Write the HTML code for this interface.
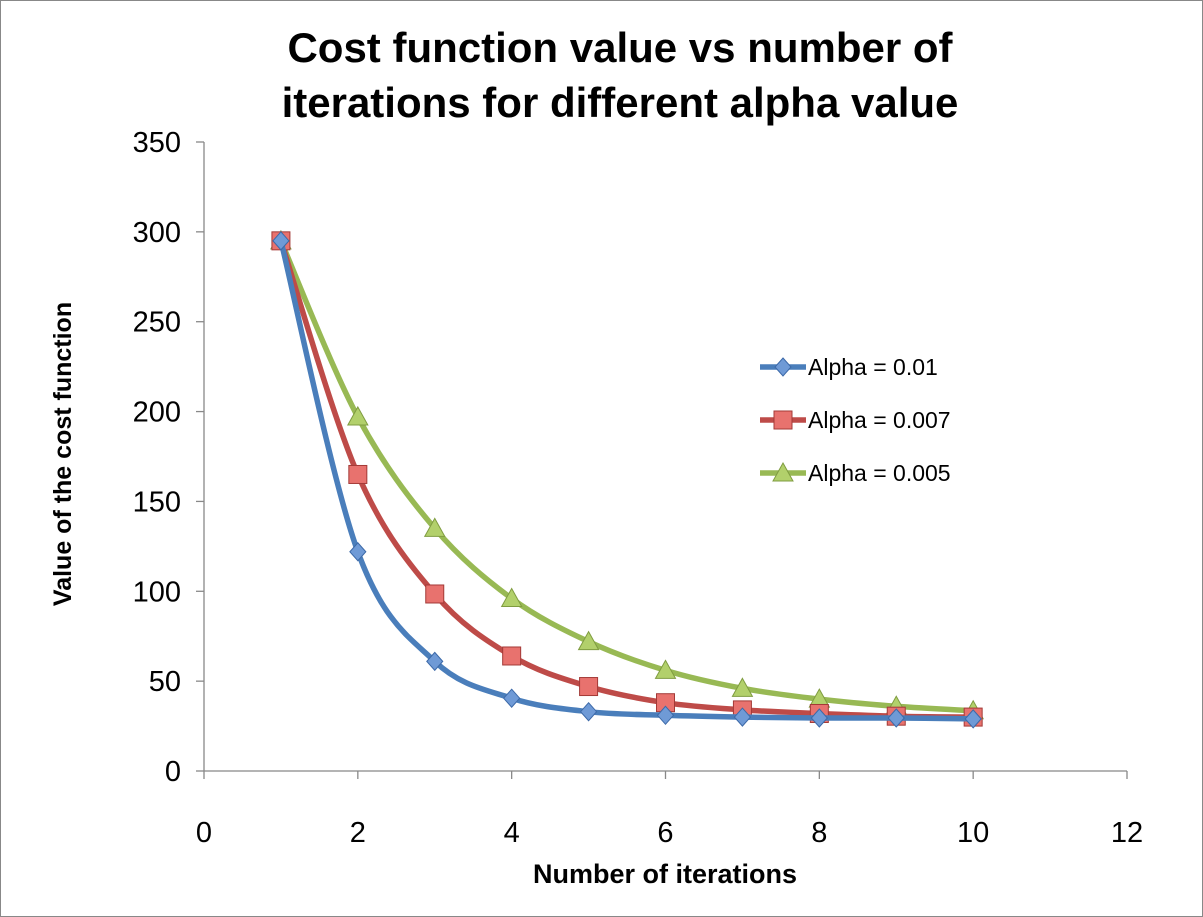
<!DOCTYPE html>
<html><head><meta charset="utf-8"><style>
body{margin:0;background:#fff;}
svg{display:block;font-family:"Liberation Sans",sans-serif;}
</style></head><body>
<svg id="chart" width="1203" height="917" viewBox="0 0 1203 917">
<rect x="0.5" y="0.5" width="1202" height="916" fill="#fff" stroke="#888" stroke-width="1"/>
<text x="620" y="62" text-anchor="middle" font-size="42" font-weight="bold" fill="#000">Cost function value vs number of</text>
<text x="620" y="117" text-anchor="middle" font-size="42" font-weight="bold" fill="#000">iterations for different alpha value</text>
<text x="665" y="883" text-anchor="middle" font-size="27" font-weight="bold">Number of iterations</text>
<text transform="translate(71,454) rotate(-90)" text-anchor="middle" font-size="25" font-weight="bold">Value of the cost function</text>
<g id="axes"></g><g id="series"></g><g id="legend"></g>
</svg>
<script>
const xTicks=[0,2,4,6,8,10,12];
const yTicks=[0,50,100,150,200,250,300,350];
const iterations=[1,2,3,4,5,6,7,8,9,10];
const alpha001=[295,122,61,40.5,33,31,30,29.5,29.5,29];
const alpha0007=[295,165,98.5,64,47,38,34,32,30.5,30];
const alpha0005=[295,197,135,96,72,56,46,40,36,33.5];
const seriesNames=["Alpha = 0.01","Alpha = 0.007","Alpha = 0.005"];
const NS="http://www.w3.org/2000/svg";
const X0=204,X1=1127,Y0=771,Y1=142;
const xs=v=>X0+(v-0)/12*(X1-X0);
const ys=v=>Y0-(v/350)*(Y0-Y1);
function mk(t,a,p){const e=document.createElementNS(NS,t);for(const k in a)e.setAttribute(k,a[k]);p.appendChild(e);return e;}
const axes=document.getElementById('axes');
let ax=mk('line',{x1:X0,y1:Y0,x2:X1,y2:Y0,stroke:'#888','stroke-width':1.3},axes);


let ay=mk('line',{x1:X0,y1:Y0,x2:X0,y2:Y1,stroke:'#888','stroke-width':1.3},axes);


xTicks.forEach(v=>{
 const t=mk('line',{x1:xs(v),y1:Y0,x2:xs(v),y2:Y0+8,stroke:'#888','stroke-width':1.3},axes);
 
 
 const l=mk('text',{x:xs(v),y:Y0+71,'text-anchor':'middle','font-size':29},axes);
 
 
 l.textContent=v;
});
yTicks.forEach(v=>{
 const t=mk('line',{x1:X0-8,y1:ys(v),x2:X0,y2:ys(v),stroke:'#888','stroke-width':1.3},axes);
 
 
 const l=mk('text',{x:181,y:ys(v)+10,'text-anchor':'end','font-size':29},axes);
 
 
 l.textContent=v;
});
function smooth(pts){let d=`M${pts[0][0]},${pts[0][1]}`;
 for(let i=0;i<pts.length-1;i++){const p0=pts[i-1]||pts[i],p1=pts[i],p2=pts[i+1],p3=pts[i+2]||p2;
  const c1=[p1[0]+(p2[0]-p0[0])/6,p1[1]+(p2[1]-p0[1])/6],c2=[p2[0]-(p3[0]-p1[0])/6,p2[1]-(p3[1]-p1[1])/6];
  d+=` C${c1[0]},${c1[1]} ${c2[0]},${c2[1]} ${p2[0]},${p2[1]}`;}return d;}
function marker(kind,x,y,fill,stroke,p){
 let e;
 if(kind==='diamond')e=mk('polygon',{points:`${x},${y-9} ${x+8},${y} ${x},${y+9} ${x-8},${y}`,fill,stroke,'stroke-width':1},p);
 else if(kind==='square')e=mk('rect',{x:x-9,y:y-9,width:18,height:18,fill,stroke,'stroke-width':1},p);
 else e=mk('polygon',{points:`${x},${y-10} ${x+10},${y+8} ${x-10},${y+8}`,fill,stroke,'stroke-width':1},p);
 return e;}
const sdefs=[[alpha001,'#4a7ebb','#6f9ad6','#3c69a8','diamond','series-alpha-0-01'],
 [alpha0007,'#be4b48','#e8726e','#a33a37','square','series-alpha-0-007'],
 [alpha0005,'#98b954','#b2d06b','#7f9c40','triangle','series-alpha-0-005']];
const sg=document.getElementById('series');const lg=document.getElementById('legend');
[...sdefs].reverse().forEach(([vals,col,mf,ms,kind,name])=>{
 const g=mk('g',{},sg);
 
 
 const pts=iterations.map((it,i)=>[xs(it),ys(vals[i])]);
 const path=mk('path',{d:smooth(pts),fill:'none',stroke:col,'stroke-width':5.5,'stroke-linecap':'round'},g);
 
 
 pts.forEach(p=>{const m=marker(kind,p[0],p[1],mf,ms,g);
  
  });
});
sdefs.forEach(([vals,col,mf,ms,kind,name],i)=>{
 const y=367+i*53;
 const g=mk('g',{},lg);
 
 
 mk('line',{x1:760,y1:y,x2:806,y2:y,stroke:col,'stroke-width':5.5},g);
 marker(kind,783,y,mf,ms,g);
 const t=mk('text',{x:808,y:y+8,'font-size':23},g);
 
 
 t.textContent=seriesNames[i];
});
</script>
</body></html>
